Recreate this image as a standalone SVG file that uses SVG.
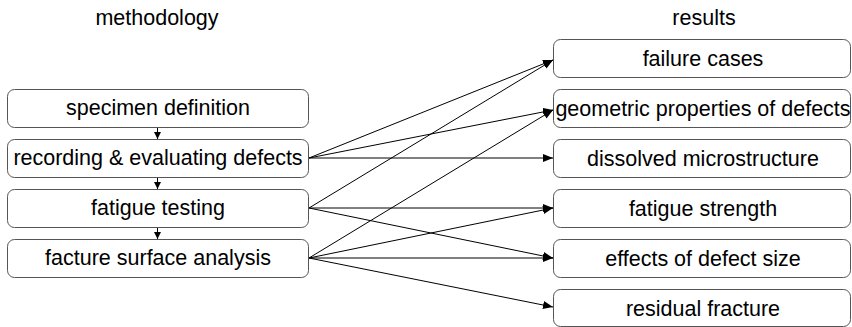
<svg xmlns="http://www.w3.org/2000/svg" width="852" height="327" viewBox="0 0 852 327">
<style>
.box{fill:#fff;stroke:#555;stroke-width:1}
.t{font-family:"Liberation Sans",Arial,sans-serif;font-size:21.5px;fill:#000;text-anchor:middle}
.e{stroke:#000;stroke-width:1;fill:none;marker-end:url(#ah)}
.s{stroke:#000;stroke-width:1;fill:none;marker-end:url(#sh)}
</style>
<defs>
<marker id="ah" viewBox="0 0 10 8" refX="10" refY="4" markerWidth="10" markerHeight="8" markerUnits="userSpaceOnUse" orient="auto"><path d="M0,0 L10,4 L0,8 Z" fill="#000"/></marker>
<marker id="sh" viewBox="0 0 8 8" refX="8" refY="4" markerWidth="7" markerHeight="7" markerUnits="userSpaceOnUse" orient="auto"><path d="M0,0 L8,4 L0,8 Z" fill="#000"/></marker>
</defs>
<text class="t" x="157" y="25">methodology</text>
<text class="t" x="704" y="25">results</text>
<g id="connectors">
<line class="s" x1="157.5" y1="127" x2="157.5" y2="139"/>
<line class="s" x1="157.5" y1="177" x2="157.5" y2="189"/>
<line class="s" x1="157.5" y1="227" x2="157.5" y2="239"/>
<line class="e" x1="309" y1="158" x2="553" y2="60"/>
<line class="e" x1="309" y1="158" x2="553" y2="110"/>
<line class="e" x1="309" y1="158" x2="553" y2="158"/>
<line class="e" x1="309" y1="208" x2="553" y2="60"/>
<line class="e" x1="309" y1="208" x2="553" y2="208"/>
<line class="e" x1="309" y1="208" x2="553" y2="258"/>
<line class="e" x1="309" y1="258" x2="553" y2="110"/>
<line class="e" x1="309" y1="258" x2="553" y2="208"/>
<line class="e" x1="309" y1="258" x2="553" y2="258"/>
<line class="e" x1="309" y1="258" x2="553" y2="307"/>
</g>
<g id="specimen"><rect class="box" x="7.5" y="89.5" width="301" height="38" rx="7"/><text class="t" x="158" y="115">specimen definition</text></g>
<g id="recording"><rect class="box" x="7.5" y="139.5" width="301" height="38" rx="7"/><text class="t" x="158" y="165">recording &amp; evaluating defects</text></g>
<g id="fatigue"><rect class="box" x="7.5" y="189.5" width="301" height="38" rx="7"/><text class="t" x="158" y="215">fatigue testing</text></g>
<g id="facture"><rect class="box" x="7.5" y="239.5" width="301" height="38" rx="7"/><text class="t" x="158" y="265">facture surface analysis</text></g>
<g id="failure"><rect class="box" x="553.5" y="39.5" width="297" height="38" rx="7"/><text class="t" x="703" y="66">failure cases</text></g>
<g id="geometric"><rect class="box" x="553.5" y="89.5" width="297" height="38" rx="7"/><text class="t" x="703" y="116">geometric properties of defects</text></g>
<g id="dissolved"><rect class="box" x="553.5" y="139.5" width="297" height="38" rx="7"/><text class="t" x="703" y="166">dissolved microstructure</text></g>
<g id="strength"><rect class="box" x="553.5" y="189.5" width="297" height="38" rx="7"/><text class="t" x="703" y="216">fatigue strength</text></g>
<g id="effects"><rect class="box" x="553.5" y="239.5" width="297" height="38" rx="7"/><text class="t" x="703" y="266">effects of defect size</text></g>
<g id="residual"><rect class="box" x="553.5" y="289.5" width="297" height="37" rx="7"/><text class="t" x="703" y="316">residual fracture</text></g>
</svg>
